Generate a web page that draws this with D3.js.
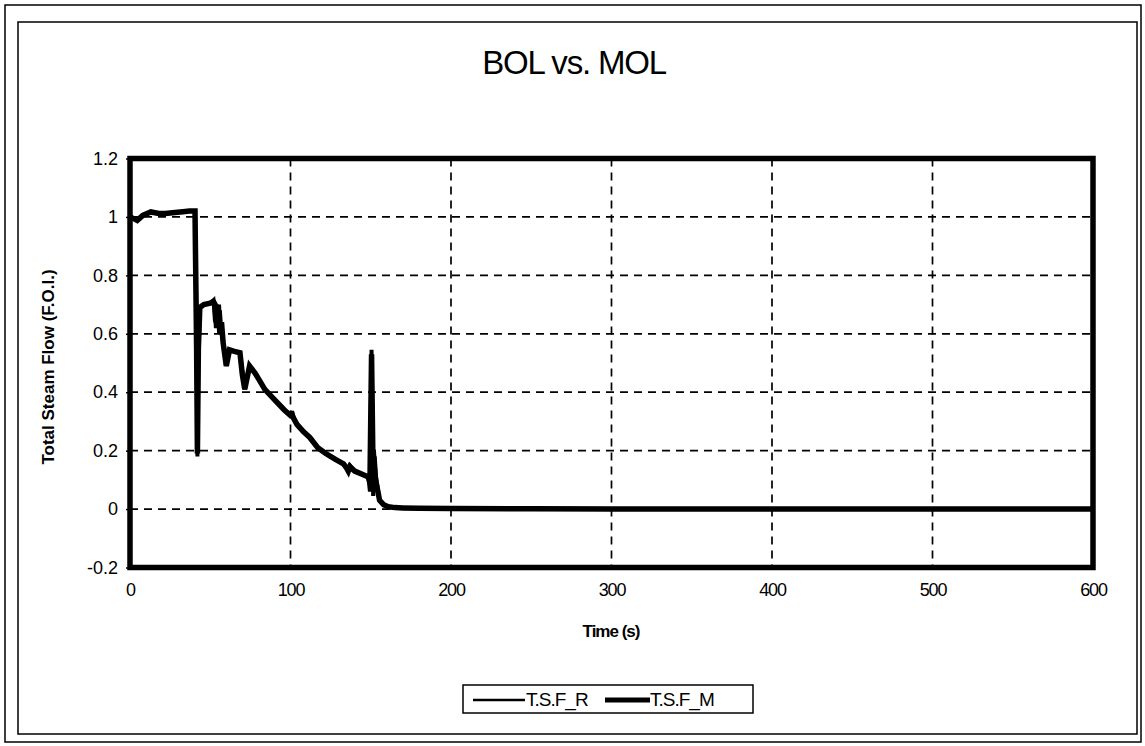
<!DOCTYPE html>
<html>
<head>
<meta charset="utf-8">
<script src="https://cdn.jsdelivr.net/npm/d3@7"></script>
<style>
  html, body { margin: 0; padding: 0; background: #fff; }
  svg { display: block; }
  text { font-family: Arial, "Liberation Sans", sans-serif; fill: #000; }
</style>
</head>
<body>
<svg id="chart" width="1145" height="746"></svg>
<script>
// Time samples (s) shared by both steam-flow traces
const timeS = [0, 2, 4.5, 8, 13, 18, 22, 28, 33, 37, 40.5, 41.5, 42, 42.6, 43.5, 46, 50, 52, 53, 54, 55, 56, 57, 58, 60, 62, 65, 68.5, 70, 71.5, 74.5, 78, 84, 90, 96, 100, 101, 102, 104, 108, 112, 117, 122, 128, 133, 135, 136, 137, 140, 145, 148.5, 149.5, 150.5, 151.5, 152, 153, 155.5, 158, 161, 165, 170, 180, 200, 250, 300, 400, 500, 600];

// Total steam flow, reference case
const tsfR = [1.0, 0.995, 0.988, 1.005, 1.017, 1.012, 1.012, 1.015, 1.018, 1.02, 1.02, 0.60, 0.18, 0.50, 0.69, 0.70, 0.705, 0.715, 0.64, 0.70, 0.66, 0.68, 0.60, 0.58, 0.49, 0.545, 0.54, 0.535, 0.47, 0.41, 0.49, 0.465, 0.41, 0.375, 0.34, 0.32, 0.335, 0.315, 0.29, 0.265, 0.245, 0.21, 0.19, 0.17, 0.155, 0.145, 0.14, 0.15, 0.13, 0.118, 0.11, 0.06, 0.545, 0.045, 0.20, 0.12, 0.03, 0.015, 0.008, 0.005, 0.004, 0.003, 0.002, 0.001, 0.0, 0.0, 0.0, 0.0];

// Total steam flow, modified case
const tsfM = [1.0, 0.995, 0.988, 1.005, 1.017, 1.012, 1.012, 1.015, 1.018, 1.02, 1.02, 0.55, 0.19, 0.55, 0.69, 0.70, 0.705, 0.71, 0.70, 0.62, 0.70, 0.60, 0.64, 0.57, 0.49, 0.545, 0.54, 0.535, 0.46, 0.41, 0.49, 0.465, 0.41, 0.375, 0.34, 0.32, 0.32, 0.31, 0.29, 0.265, 0.245, 0.21, 0.19, 0.17, 0.155, 0.14, 0.13, 0.145, 0.13, 0.118, 0.11, 0.09, 0.53, 0.10, 0.18, 0.10, 0.03, 0.015, 0.008, 0.005, 0.004, 0.003, 0.002, 0.001, 0.0, 0.0, 0.0, 0.0];

const xTicks = [0, 100, 200, 300, 400, 500, 600];
const yTicks = [-0.2, 0, 0.2, 0.4, 0.6, 0.8, 1, 1.2];
const seriesNames = ["T.S.F_R", "T.S.F_M"];

const svg = d3.select("#chart");

// Outer and inner frames
svg.append("rect").attr("x", 5).attr("y", 5).attr("width", 1136).attr("height", 737)
  .attr("fill", "none").attr("stroke", "#000").attr("stroke-width", 1.5);
svg.append("rect").attr("x", 18).attr("y", 22).attr("width", 1119).attr("height", 712)
  .attr("fill", "none").attr("stroke", "#000").attr("stroke-width", 1.5);

// Plot area
const plot = { left: 130, right: 1093, top: 158.5, bottom: 567.5 };
const x = d3.scaleLinear().domain([0, 600]).range([plot.left, plot.right]);
const y = d3.scaleLinear().domain([-0.2, 1.2]).range([plot.bottom, plot.top]);

// Title
svg.append("text").attr("x", 574).attr("y", 74).attr("text-anchor", "middle")
  .attr("font-size", 33).attr("letter-spacing", -1.2).text("BOL vs. MOL");

// Dashed gridlines
const grid = svg.append("g").attr("stroke", "#000").attr("stroke-width", 1.7)
  .attr("stroke-dasharray", "8,6").attr("fill", "none");
grid.selectAll("line.h").data(yTicks.filter(v => v > -0.2 && v < 1.2)).join("line")
  .attr("class", "h")
  .attr("x1", plot.left).attr("x2", plot.right)
  .attr("y1", d => y(d)).attr("y2", d => y(d));
grid.selectAll("line.v").data(xTicks.filter(v => v > 0 && v < 600)).join("line")
  .attr("class", "v")
  .attr("y1", plot.top).attr("y2", plot.bottom)
  .attr("x1", d => x(d)).attr("x2", d => x(d));

// Axes (ticks + labels); plain hyphen for negatives
const yAxis = d3.axisLeft(y).tickValues(yTicks).tickSize(4).tickPadding(8)
  .tickFormat(d => String(+d.toFixed(1)));
const gy = svg.append("g").attr("transform", `translate(${plot.left},0)`).call(yAxis);
gy.select(".domain").remove();
gy.selectAll("text").attr("font-size", 18).attr("font-family", "Arial, 'Liberation Sans', sans-serif");
gy.selectAll("line").attr("stroke-width", 1.5);

const xAxis = d3.axisBottom(x).tickValues(xTicks).tickSize(0).tickPadding(16)
  .tickFormat(d3.format("d"));
const gx = svg.append("g").attr("transform", `translate(0,${plot.bottom})`).call(xAxis);
gx.select(".domain").remove();
gx.selectAll("text").attr("font-size", 18).attr("letter-spacing", -1.2)
  .attr("font-family", "Arial, 'Liberation Sans', sans-serif");

// Axis titles
svg.append("text").attr("x", 611).attr("y", 637).attr("text-anchor", "middle")
  .attr("font-size", 17).attr("font-weight", "bold").attr("letter-spacing", -1).text("Time (s)");
svg.append("text").attr("transform", `translate(54,${(plot.top + plot.bottom) / 2 + 4}) rotate(-90)`)
  .attr("text-anchor", "middle").attr("font-size", 17).attr("font-weight", "bold")
  .text("Total Steam Flow (F.O.I.)");

// Data traces
const line = d3.line().x(d => x(d[0])).y(d => y(d[1]));
const seriesData = [tsfR, tsfM].map(vals => timeS.map((t, i) => [t, vals[i]]));
const widths = [4, 5.5];
svg.append("g").selectAll("path").data(seriesData).join("path")
  .attr("d", line).attr("fill", "none").attr("stroke", "#000")
  .attr("stroke-width", (d, i) => widths[i]).attr("stroke-linejoin", "miter")
  .attr("stroke-miterlimit", 3);

// Plot border
svg.append("rect").attr("x", plot.left).attr("y", plot.top)
  .attr("width", plot.right - plot.left).attr("height", plot.bottom - plot.top)
  .attr("fill", "none").attr("stroke", "#000").attr("stroke-width", 5.5);

// Legend
const lg = svg.append("g").attr("transform", "translate(463,685)");
lg.append("rect").attr("width", 290).attr("height", 28).attr("fill", "#fff")
  .attr("stroke", "#000").attr("stroke-width", 1.5);
const legendItems = [
  { name: seriesNames[0], x0: 10, x1: 62, tx: 63, w: 2.5 },
  { name: seriesNames[1], x0: 142, x1: 187, tx: 187, w: 5 }
];
legendItems.forEach(it => {
  lg.append("line").attr("x1", it.x0).attr("x2", it.x1).attr("y1", 15).attr("y2", 15)
    .attr("stroke", "#000").attr("stroke-width", it.w);
  lg.append("text").attr("x", it.tx).attr("y", 21).attr("font-size", 19)
    .attr("letter-spacing", -1).text(it.name);
});
</script>
</body>
</html>
